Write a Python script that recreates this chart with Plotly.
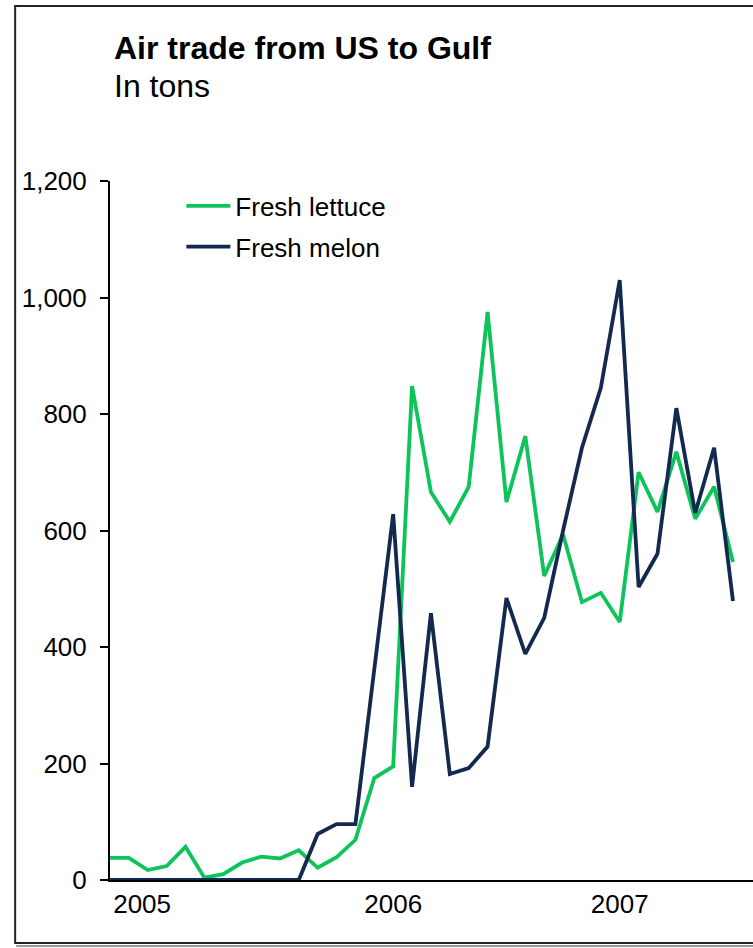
import plotly.graph_objects as go

# monthly series, Oct 2004 .. Jul 2007
months = [
    "2004-10", "2004-11", "2004-12",
    "2005-01", "2005-02", "2005-03", "2005-04", "2005-05", "2005-06",
    "2005-07", "2005-08", "2005-09", "2005-10", "2005-11", "2005-12",
    "2006-01", "2006-02", "2006-03", "2006-04", "2006-05", "2006-06",
    "2006-07", "2006-08", "2006-09", "2006-10", "2006-11", "2006-12",
    "2007-01", "2007-02", "2007-03", "2007-04", "2007-05", "2007-06", "2007-07",
]
lettuce = [38, 38, 17, 24, 57, 4, 10, 30, 40, 37, 51, 21, 39, 69, 175, 195,
           848, 666, 615, 675, 975, 649, 762, 522, 593, 477, 493, 443,
           700, 632, 735, 620, 675, 546]
melon = [0, 0, 0, 0, 0, 0, 0, 0, 0, 0, 0, 79, 96, 96, 362, 628,
         160, 458, 182, 192, 229, 484, 388, 450, 600, 742, 845, 1030,
         503, 560, 810, 630, 742, 479]
year_labels = ["2005", "2006", "2007"]
year_ticks = [1.7, 15, 27]
y_ticks = [0, 200, 400, 600, 800, 1000, 1200]

GREEN = "#0CC459"
NAVY = "#13294F"
FONT = "Liberation Sans, Arial, sans-serif"

idx = list(range(len(months)))

fig = go.Figure()
fig.add_trace(go.Scatter(
    x=idx, y=lettuce, mode="lines", name="Fresh lettuce",
    line=dict(color=GREEN, width=3.8), hovertext=months,
    legendgroup="a",
))
fig.add_trace(go.Scatter(
    x=idx, y=melon, mode="lines", name="Fresh melon",
    line=dict(color=NAVY, width=3.8), hovertext=months,
    legendgroup="b",
))

fig.update_layout(
    width=753, height=948,
    margin=dict(l=110, r=0, t=181, b=68),
    paper_bgcolor="white", plot_bgcolor="white",
    font=dict(family=FONT, color="black", size=26),
    showlegend=True,
    legend=dict(
        x=0.111, y=0.998, xanchor="left", yanchor="top",
        font=dict(size=26), bgcolor="rgba(0,0,0,0)",
        traceorder="grouped", tracegroupgap=4, itemwidth=44,
    ),
    xaxis=dict(
        range=[0, 34.06], showgrid=False, zeroline=False,
        showline=True, linecolor="black", linewidth=2,
        tickmode="array", tickvals=year_ticks, ticktext=year_labels,
        ticks="", tickfont=dict(size=26),
    ),
    yaxis=dict(
        range=[0, 1200], showgrid=False, zeroline=False,
        showline=True, linecolor="black", linewidth=2,
        tickmode="array", tickvals=y_ticks, tickformat=",",
        ticks="outside", ticklen=8, tickwidth=2, tickcolor="black",
        ticklabelstandoff=8, tickfont=dict(size=26),
    ),
    annotations=[
        dict(text="<b>Air trade from US to Gulf</b>", xref="paper", yref="paper",
             x=0.003, y=1.19, xanchor="left", yanchor="middle",
             showarrow=False, font=dict(size=32)),
        dict(text="In tons", xref="paper", yref="paper",
             x=0.003, y=1.136, xanchor="left", yanchor="middle",
             showarrow=False, font=dict(size=32)),
    ],
    shapes=[
        # frame with a soft shadow; right side runs off the page
        dict(type="line", xref="paper", yref="paper", x0=-0.146, x1=1.1,
             y0=-0.0945, y1=-0.0945, line=dict(color="#9a9a9a", width=2)),
        dict(type="rect", xref="paper", yref="paper", x0=-0.1475, x1=1.1,
             y0=-0.09, y1=1.2505, line=dict(color="#222222", width=2)),
    ],
)

# the page's default body margin would push the figure 8px off the window
fig.write_html("out.html", config={"displayModeBar": False},
               post_script="document.body.style.margin='0';")
